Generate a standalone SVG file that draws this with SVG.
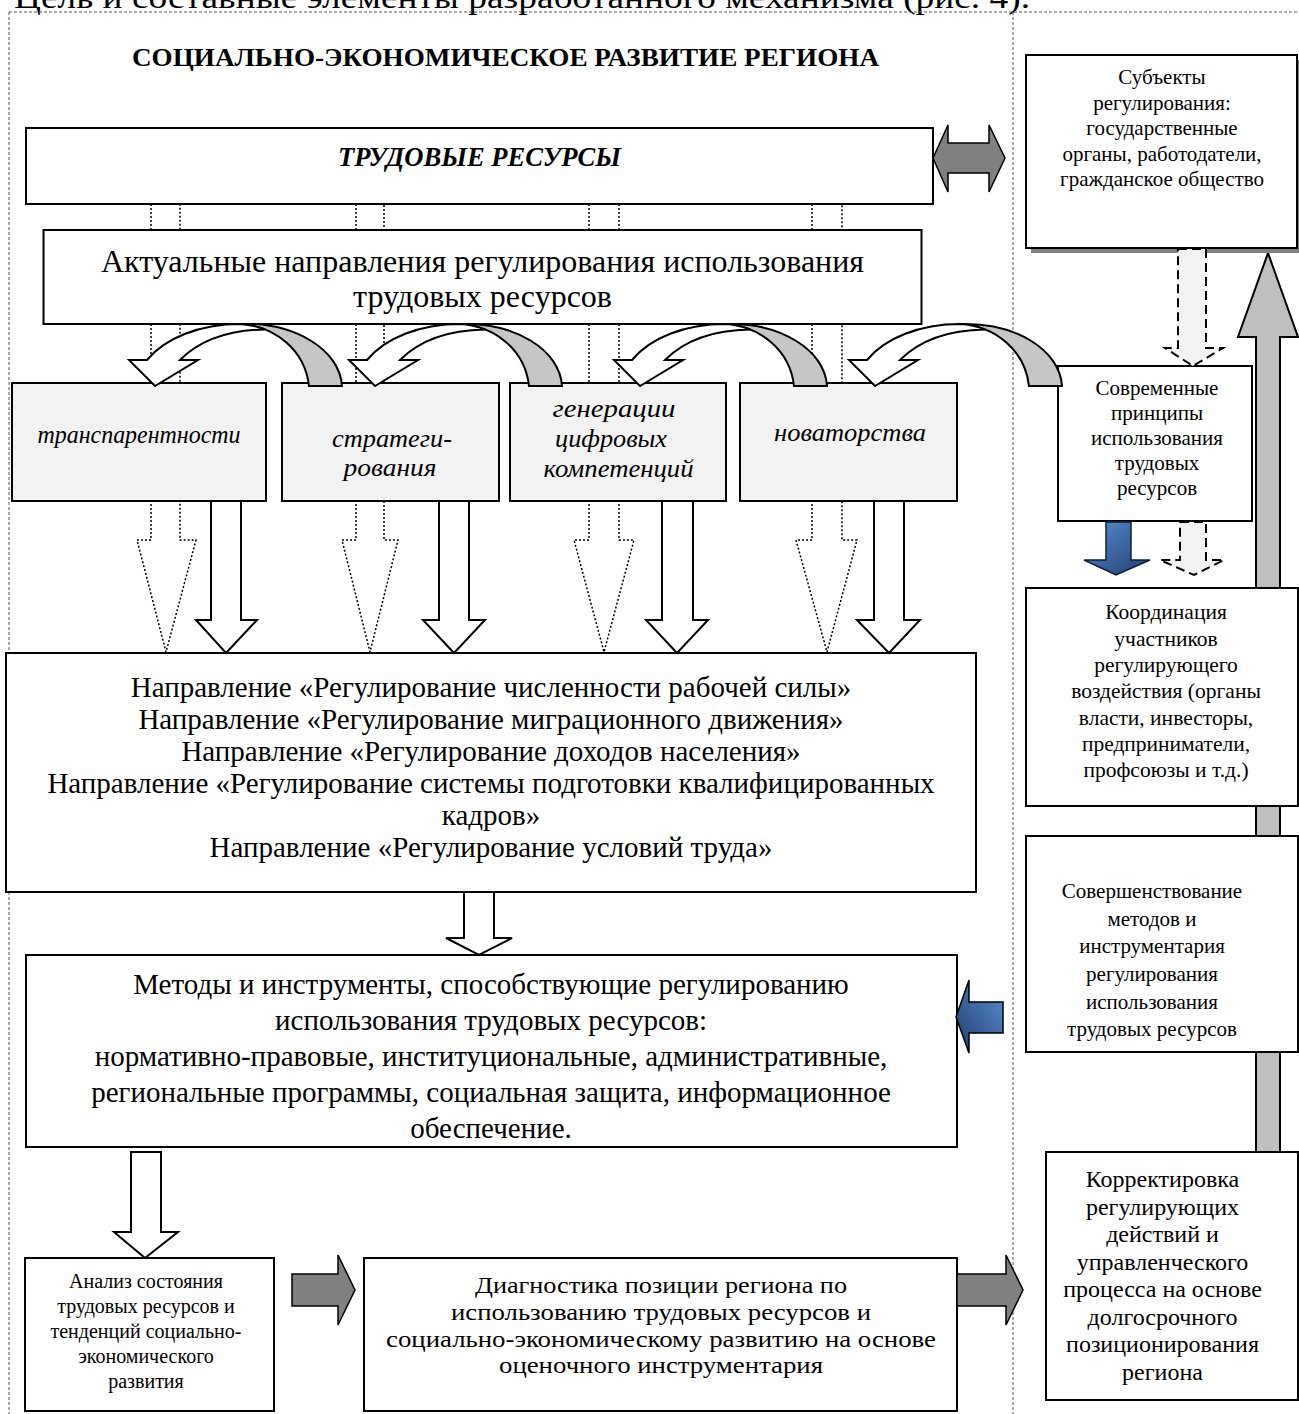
<svg xmlns="http://www.w3.org/2000/svg" width="1299" height="1414" viewBox="0 0 1299 1414">
<defs>
<style>
.t{font-family:"Liberation Serif","Times New Roman",serif;fill:#000}
.box{fill:#fff;stroke:#000;stroke-width:2}
.pbox{fill:#f2f2f2;stroke:#000;stroke-width:2}
.frame{fill:none;stroke:#555;stroke-width:1;stroke-dasharray:3 2}
.dot{fill:none;stroke:#000;stroke-width:1.5;stroke-dasharray:2 2}
.wa{fill:#fff;stroke:#000;stroke-width:2;stroke-linejoin:miter}
.ga{fill:#808080;stroke:#000;stroke-width:1.5}
.la{fill:#c6c6c6;stroke:#000;stroke-width:2}
.ua{fill:#bfbfbf;stroke:#000;stroke-width:2}
.da{fill:#f2f2f2;stroke:#000;stroke-width:2;stroke-dasharray:9 5}
.it{font-style:italic}
</style>
<linearGradient id="blueDown" x1="0" y1="0" x2="1" y2="1">
<stop offset="0" stop-color="#5b90d2"/>
<stop offset="1" stop-color="#1f3c6e"/>
</linearGradient>
<linearGradient id="blueLeft" x1="1" y1="0" x2="0" y2="1">
<stop offset="0" stop-color="#5b90d2"/>
<stop offset="1" stop-color="#1f3c6e"/>
</linearGradient>
<g id="curved">
<path class="la" d="M85,324 C140,322 185,350 187,386 L154,386 C150,350 120,326 85,324 Z"/>
<path class="wa" d="M-8,360 L-26,360 L0,386 L43,360 L25,360 C45,340 75,330 110,329.5 C102.2,326.4 93.75,324.5 85,324 C45,324 10,338 -8,360 Z"/>
</g>
</defs>

<rect width="1299" height="1414" fill="#fff"/>

<text class="t" x="14" y="8" font-size="32" textLength="1016" lengthAdjust="spacingAndGlyphs">Цель и составные элементы разработанного механизма (рис. 4).</text>

<g id="frame">
<line class="frame" x1="9" y1="12" x2="1299" y2="12"/>
<line class="frame" x1="9" y1="12" x2="9" y2="1414"/>
<line class="frame" x1="1013" y1="12" x2="1013" y2="1414"/>
</g>

<g id="title">
<text class="t" x="505.5" y="66" font-size="26" font-weight="bold" text-anchor="middle" textLength="747" lengthAdjust="spacingAndGlyphs">СОЦИАЛЬНО-ЭКОНОМИЧЕСКОЕ РАЗВИТИЕ РЕГИОНА</text>
</g>

<g id="connectors-under">
<polygon class="dot" points="151,204 151,540 137,540 166,652 196,540 180,540 180,204"/>
<polygon class="dot" points="356,204 356,540 342,540 370,652 398,540 384,540 384,204"/>
<polygon class="dot" points="589,204 589,540 574,540 604,652 634,540 619,540 619,204"/>
<polygon class="dot" points="812,204 812,540 796,540 827,652 857,540 842,540 842,204"/>
<polygon class="ua" points="1268,253 1298,337 1280,337 1280,1152 1256,1152 1256,337 1238,337"/>
</g>

<g id="node-labour">
<rect class="box" x="26" y="128" width="907" height="76"/>
<text class="t it" x="479.5" y="166" font-size="27" font-weight="bold" text-anchor="middle" textLength="283" lengthAdjust="spacingAndGlyphs">ТРУДОВЫЕ РЕСУРСЫ</text>
</g>

<g id="node-directions">
<rect class="box" x="43.5" y="230" width="878" height="94"/>
<text class="t" x="482.5" y="272" font-size="32" text-anchor="middle">Актуальные направления регулирования использования</text>
<text class="t" x="482.5" y="307" font-size="32" text-anchor="middle">трудовых ресурсов</text>
</g>

<g id="node-transparency">
<rect class="pbox" x="12" y="383" width="254" height="118"/>
<text class="t it" x="139" y="443" font-size="25" text-anchor="middle" textLength="203" lengthAdjust="spacingAndGlyphs">транспарентности</text>
</g>
<g id="node-strategy">
<rect class="pbox" x="282" y="383" width="217" height="118"/>
<text class="t it" x="392" y="447" font-size="25" text-anchor="middle" textLength="120" lengthAdjust="spacingAndGlyphs">стратеги-</text>
<text class="t it" x="390" y="476" font-size="25" text-anchor="middle" textLength="93" lengthAdjust="spacingAndGlyphs">рования</text>
</g>
<g id="node-digital">
<rect class="pbox" x="510" y="383" width="216" height="118"/>
<text class="t it" x="614" y="417" font-size="25" text-anchor="middle" textLength="123" lengthAdjust="spacingAndGlyphs">генерации</text>
<text class="t it" x="611" y="447" font-size="25" text-anchor="middle" textLength="112" lengthAdjust="spacingAndGlyphs">цифровых</text>
<text class="t it" x="618.5" y="477" font-size="25" text-anchor="middle" textLength="150" lengthAdjust="spacingAndGlyphs">компетенций</text>
</g>
<g id="node-innovation">
<rect class="pbox" x="740" y="383" width="217" height="118"/>
<text class="t it" x="850" y="441" font-size="25" text-anchor="middle" textLength="152" lengthAdjust="spacingAndGlyphs">новаторства</text>
</g>

<g id="node-principles">
<rect class="box" x="1058" y="366" width="194" height="155"/>
<g class="t" font-size="21" text-anchor="middle">
<text x="1157" y="395">Современные</text>
<text x="1157" y="420">принципы</text>
<text x="1157" y="445">использования</text>
<text x="1157" y="470">трудовых</text>
<text x="1157" y="495">ресурсов</text>
</g>
</g>

<g id="node-subjects">
<rect x="1031" y="60" width="271" height="193" fill="#808080"/>
<rect class="box" x="1026" y="55" width="271" height="193"/>
<g class="t" font-size="21" text-anchor="middle">
<text x="1162" y="84">Субъекты</text>
<text x="1162" y="109.5">регулирования:</text>
<text x="1162" y="135">государственные</text>
<text x="1162" y="160.5">органы, работодатели,</text>
<text x="1162" y="186">гражданское общество</text>
</g>
</g>

<g id="node-coordination">
<rect class="box" x="1026" y="588" width="272" height="218"/>
<g class="t" font-size="21.5" text-anchor="middle">
<text x="1166" y="619">Координация</text>
<text x="1166" y="645.5">участников</text>
<text x="1166" y="672">регулирующего</text>
<text x="1166" y="698">воздействия (органы</text>
<text x="1166" y="724.5">власти, инвесторы,</text>
<text x="1166" y="751">предприниматели,</text>
<text x="1166" y="777">профсоюзы и т.д.)</text>
</g>
</g>

<g id="node-improvement">
<rect class="box" x="1026" y="836" width="272" height="216"/>
<g class="t" font-size="21" text-anchor="middle">
<text x="1152" y="898">Совершенствование</text>
<text x="1152" y="925.5">методов и</text>
<text x="1152" y="953">инструментария</text>
<text x="1152" y="981">регулирования</text>
<text x="1152" y="1008.5">использования</text>
<text x="1152" y="1036">трудовых ресурсов</text>
</g>
</g>

<g id="node-adjustment">
<rect class="box" x="1046" y="1152" width="252" height="248"/>
<g class="t" font-size="24" text-anchor="middle">
<text x="1162.5" y="1187">Корректировка</text>
<text x="1162.5" y="1214.5">регулирующих</text>
<text x="1162.5" y="1242">действий и</text>
<text x="1162.5" y="1269.5">управленческого</text>
<text x="1162.5" y="1297">процесса на основе</text>
<text x="1162.5" y="1324.5">долгосрочного</text>
<text x="1162.5" y="1352">позиционирования</text>
<text x="1162.5" y="1379.5">региона</text>
</g>
</g>

<g id="node-regulation">
<rect class="box" x="6" y="653" width="970" height="239"/>
<g class="t" font-size="29" text-anchor="middle">
<text x="491" y="697">Направление «Регулирование численности рабочей силы»</text>
<text x="491" y="729">Направление «Регулирование миграционного движения»</text>
<text x="491" y="761">Направление «Регулирование доходов населения»</text>
<text x="491" y="793">Направление «Регулирование системы подготовки квалифицированных</text>
<text x="491" y="825">кадров»</text>
<text x="491" y="857">Направление «Регулирование условий труда»</text>
</g>
</g>

<g id="node-methods">
<rect class="box" x="26" y="955" width="931" height="192"/>
<g class="t" font-size="29" text-anchor="middle">
<text x="491" y="994">Методы и инструменты, способствующие регулированию</text>
<text x="491" y="1030">использования трудовых ресурсов:</text>
<text x="491" y="1066">нормативно-правовые, институциональные, административные,</text>
<text x="491" y="1102">региональные программы, социальная защита, информационное</text>
<text x="491" y="1138">обеспечение.</text>
</g>
</g>

<g id="node-analysis">
<rect class="box" x="25" y="1258" width="249" height="153"/>
<g class="t" font-size="20" text-anchor="middle">
<text x="146" y="1288">Анализ состояния</text>
<text x="146" y="1313">трудовых ресурсов и</text>
<text x="146" y="1338">тенденций социально-</text>
<text x="146" y="1363">экономического</text>
<text x="146" y="1388">развития</text>
</g>
</g>

<g id="node-diagnostics">
<rect class="box" x="364" y="1258" width="593" height="153"/>
<g class="t" font-size="24" text-anchor="middle">
<text x="661" y="1293" textLength="372" lengthAdjust="spacingAndGlyphs">Диагностика позиции региона по</text>
<text x="661" y="1320" textLength="420" lengthAdjust="spacingAndGlyphs">использованию трудовых ресурсов и</text>
<text x="661" y="1346.5" textLength="550" lengthAdjust="spacingAndGlyphs">социально-экономическому развитию на основе</text>
<text x="661" y="1373" textLength="324" lengthAdjust="spacingAndGlyphs">оценочного инструментария</text>
</g>
</g>

<g id="connectors">
<use href="#curved" x="155"/>
<use href="#curved" x="375"/>
<use href="#curved" x="640"/>
<use href="#curved" x="875"/>
<polygon class="ga" points="933,158 948,125 948,143 989,143 989,125 1005,158 989,192 989,173 948,173 948,192"/>
<polygon class="wa" points="211,501 241,501 241,620 257,620 226,653 196,620 211,620"/>
<polygon class="wa" points="439,501 469,501 469,620 485,620 454,653 423,620 439,620"/>
<polygon class="wa" points="662,501 693,501 693,620 708,620 677,653 646,620 662,620"/>
<polygon class="wa" points="874,501 904,501 904,620 920,620 889,653 857,620 874,620"/>
<polygon class="wa" points="464,892 494,892 494,938 512,938 479,955 446,938 464,938"/>
<polygon class="wa" points="131,1152 161,1152 161,1232 178,1232 145,1258 114,1232 131,1232"/>
<polygon class="ga" points="292,1274 338,1274 338,1255 355,1290 338,1325 338,1306 292,1306"/>
<polygon class="ga" points="957,1274 1006,1274 1006,1255 1023,1290 1006,1325 1006,1306 957,1306"/>
<polygon class="da" points="1178,249 1206,249 1206,348 1223,348 1193,366 1165,348 1178,348"/>
<polygon class="da" points="1180,522 1206,522 1206,560 1224,560 1194,575 1160,560 1180,560"/>
<polygon fill="url(#blueDown)" stroke="#0d1f3c" stroke-width="1.5" points="1106,522 1131,522 1131,560 1150,560 1116,575 1084,560 1106,560"/>
<polygon fill="url(#blueLeft)" stroke="#000" stroke-width="1.5" points="956,1017 969,980 969,1002 1003,1002 1003,1033 969,1033 969,1053"/>
</g>
</svg>
